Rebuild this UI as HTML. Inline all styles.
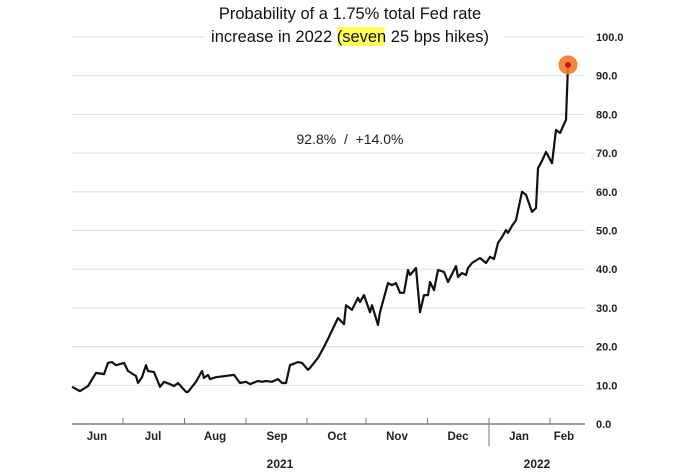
<!DOCTYPE html>
<html><head><meta charset="utf-8"><style>
html,body{margin:0;padding:0;background:#fff;}
svg{display:block;font-family:"Liberation Sans",Arial,sans-serif;}
</style></head><body>
<svg id="chart" width="681" height="472" viewBox="0 0 681 472">
<g id="grid"></g>
<rect x="205" y="28" width="300" height="14" fill="#fff"/>
<text x="350" y="19" text-anchor="middle" font-size="16.5" fill="#111">Probability of a 1.75% total Fed rate</text>
<rect x="337.5" y="27" width="47" height="19" fill="#ffff55"/>
<text x="350" y="42" text-anchor="middle" font-size="16.5" fill="#111">increase in 2022 (seven 25 bps hikes)</text>
<text x="350" y="144" text-anchor="middle" font-size="14" fill="#222">92.8%&#160;&#160;/&#160;&#160;+14.0%</text>
<g id="axis"></g>
<g id="series"></g>
</svg>
<script>
const days = [0,4,8,12,16,18,20,22,26,28,32,33,35,37,38,41,44,46,49,51,53,57,58,62,65,66,68,69,72,81,84,87,89,93,95,97,100,103,105,107,109,113,115,118,119,123,126,128,133,136,137,140,143,144,146,149,150,153,154,158,160,162,164,166,168,169,172,174,176,178,179,181,183,186,188,192,193,195,197,198,200,204,207,209,211,213,215,217,218,220,222,225,227,230,232,233,235,237,240,242,244,247,248];
const values = [9.6,8.5,9.8,13.2,12.9,15.8,16.0,15.2,15.8,13.7,12.4,10.6,12.1,15.2,13.7,13.4,9.6,10.9,10.3,9.8,10.6,8.3,8.3,10.9,13.7,11.9,12.7,11.6,12.1,12.7,10.6,10.9,10.3,11.1,10.9,11.1,10.9,11.6,10.6,10.6,15.2,16.0,15.8,14.0,14.5,17.1,19.9,22.0,27.4,25.8,30.7,29.5,32.6,31.5,33.3,28.9,30.7,25.6,28.9,36.4,35.9,36.4,33.9,33.9,39.8,38.5,40.3,28.9,33.3,33.3,36.7,34.6,39.8,39.3,36.7,40.8,38.0,39.0,38.5,40.3,41.6,42.9,41.6,43.2,42.6,46.8,48.3,50.1,49.4,51.2,52.7,60.0,59.2,54.8,55.8,66.1,68.0,70.3,67.4,76.0,75.2,78.6,92.8];
const yTicks = [0,10,20,30,40,50,60,70,80,90,100];
const monthLabels = ["Jun","Jul","Aug","Sep","Oct","Nov","Dec","Jan","Feb"];
const yearLabels = ["2021","2022"];

const NS="http://www.w3.org/2000/svg";
const X0=72,X1=568,D0=0,D1=248,Y0=424,Y100=37;
function xs(d){return X0+(d-D0)/(D1-D0)*(X1-X0);}
function ys(v){return Y0-(v/100)*(Y0-Y100);}
function mk(tag,attrs,parent){const e=document.createElementNS(NS,tag);for(const k in attrs)e.setAttribute(k,attrs[k]);parent.appendChild(e);return e;}

const grid=document.getElementById('grid');
const axis=document.getElementById('axis');
const series=document.getElementById('series');

yTicks.forEach(t=>{
  const y=ys(t);
  if(t>0){
    const l=mk('line',{x1:72,x2:585,y1:y,y2:y,stroke:'#e2e2e2','stroke-width':1.2},grid);
    
    
  }
  const tx=mk('text',{x:596,y:y+4,'font-size':11,'font-weight':'bold',fill:'#222'},axis);
  tx.textContent=t.toFixed(1);
  
  
});

const base=mk('line',{x1:72,x2:585,y1:Y0,y2:Y0,stroke:'#666','stroke-width':1.2},axis);



const tickX=[123,184.5,246,307,366,427.6,489,550];
tickX.forEach((x,i)=>{
  const big=i===6;
  const t=mk('line',{x1:x,x2:x,y1:Y0-6,y2:big?446:Y0,stroke:'#777','stroke-width':1},axis);
  
  
});
const labelX=[97,153,215,277,337,397,458,519,564];
monthLabels.forEach((m,i)=>{
  const tx=mk('text',{x:labelX[i],y:440,'font-size':11.5,'font-weight':'bold','text-anchor':'middle',fill:'#222'},axis);
  tx.textContent=m;
  
  
});
const yearX=[280,537];
yearLabels.forEach((m,i)=>{
  const tx=mk('text',{x:yearX[i],y:468,'font-size':12,'font-weight':'bold','text-anchor':'middle',fill:'#222'},axis);
  tx.textContent=m;
  
  
});

const d=days.map((dd,i)=>(i?'L':'M')+xs(dd).toFixed(1)+' '+ys(values[i]).toFixed(1)).join(' ');
const p=mk('path',{d:d,fill:'none',stroke:'#111','stroke-width':2.2,'stroke-linejoin':'round'},series);



const li=days.length-1;
const c=mk('circle',{cx:xs(days[li]),cy:ys(values[li]),r:9.5,fill:'#f07a2a',opacity:0.9},series);


const c2=mk('circle',{cx:xs(days[li]),cy:ys(values[li]),r:3,fill:'#cc1111'},series);


</script>
</body></html>
